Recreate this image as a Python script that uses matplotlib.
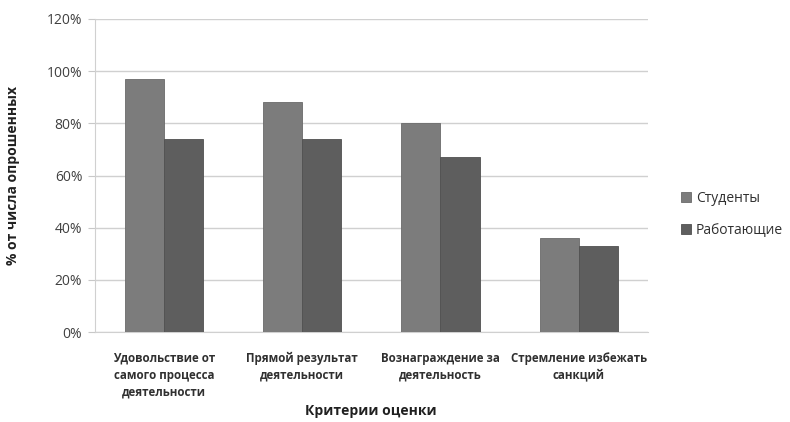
import matplotlib.pyplot as plt
import numpy as np

plt.rcParams['font.family'] = ['Open Sans', 'DejaVu Sans']

categories = ["Удовольствие от\nсамого процесса\nдеятельности",
              "Прямой результат\nдеятельности",
              "Вознаграждение за\nдеятельность",
              "Стремление избежать\nсанкций"]
students = [97, 88, 80, 36]
workers = [74, 74, 67, 33]
yticks = [0, 20, 40, 60, 80, 100, 120]

fig = plt.figure(figsize=(7.9, 4.22), dpi=100)
ax = fig.add_axes([0.120, 0.213, 0.700, 0.742])

x = np.arange(len(categories))
w = 0.283
ax.bar(x - w / 2, students, w, color='#7c7c7c', edgecolor='#6a6a6a', linewidth=0.6,
       label='Студенты', zorder=3)
ax.bar(x + w / 2, workers, w, color='#5e5e5e', edgecolor='#505050', linewidth=0.6,
       label='Работающие', zorder=3)

ax.set_xlim(-0.5, len(categories) - 0.5)
ax.set_ylim(0, 120)
ax.set_yticks(yticks)
ax.set_yticklabels([f"{t}%" for t in yticks], fontsize=10, color='#404040')
ax.set_xticks(x)
ax.set_xticklabels(categories, fontsize=8.3, fontweight='bold', color='#303030', linespacing=1.4)
ax.tick_params(axis='x', length=0, pad=14)
ax.tick_params(axis='y', length=5, color='#c8c8c8', pad=4)
ax.grid(axis='y', color='#d0d0d0', linewidth=1, zorder=0)

for s in ['top', 'right']:
    ax.spines[s].set_visible(False)
ax.spines['left'].set_color('#d0d0d0')
ax.spines['bottom'].set_color('#d0d0d0')

ax.set_ylabel("% от числа опрошенных", fontsize=10, fontweight='bold', color='#202020')
ax.yaxis.set_label_coords(-0.135, 0.5)
ax.set_xlabel("Критерии оценки", fontsize=10, fontweight='bold', color='#202020')
ax.xaxis.set_label_coords(0.5, -0.228)

fig.legend(loc='center left', bbox_to_anchor=(0.846, 0.492), frameon=False,
           fontsize=10, handlelength=0.7, handleheight=0.7, labelspacing=1.2,
           handletextpad=0.4, labelcolor='#303030')

fig.savefig('out.png', dpi=100)
